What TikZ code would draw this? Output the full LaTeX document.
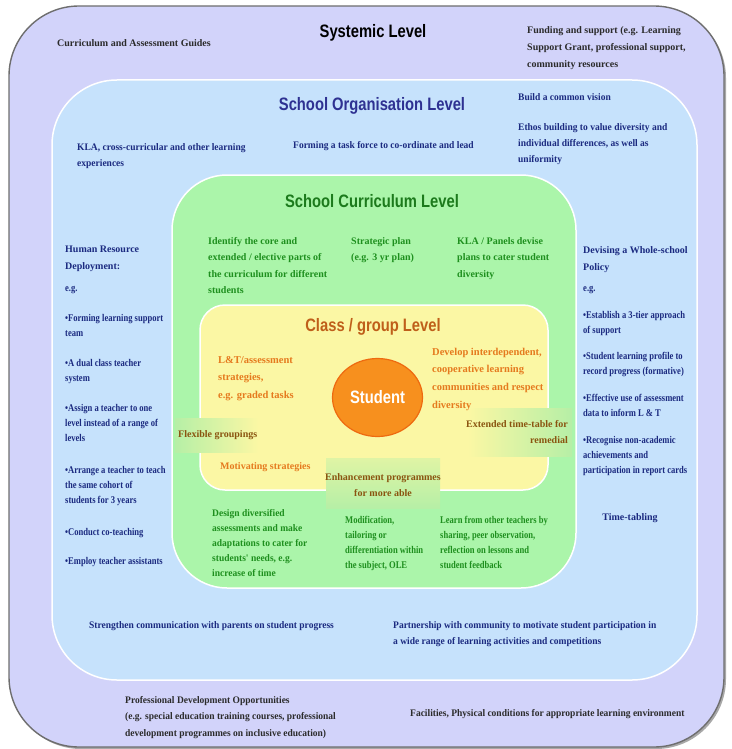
\documentclass[tikz,border=0pt]{standalone}
\usepackage{fontspec}
\setmainfont{Liberation Serif}
\newfontfamily\ttlfont[FakeStretch=0.82]{Liberation Sans}
\newfontfamily\condfont[FakeStretch=0.83]{Liberation Serif}
\newfontfamily\semifont[FakeStretch=0.95]{Liberation Serif}
\usetikzlibrary{shapes.geometric}
\definecolor{outerfill}{HTML}{D2D3FA}
\definecolor{outerline}{HTML}{6E6E6E}
\definecolor{bluefill}{HTML}{C6E2FC}
\definecolor{greenfill}{HTML}{ABF5AA}
\definecolor{yellowfill}{HTML}{FBF7A4}
\definecolor{orfill}{HTML}{F7901E}
\definecolor{orline}{HTML}{EE6A10}
\definecolor{navytxt}{HTML}{1B2A80}
\definecolor{navyttl}{HTML}{2E3192}
\definecolor{greenttl}{HTML}{1C7A1C}
\definecolor{greentxt}{HTML}{1E8F1E}
\definecolor{orangetxt}{HTML}{E57A1E}
\definecolor{browntxt}{HTML}{8A5410}
\definecolor{classttl}{HTML}{BF5F1A}
\definecolor{darktxt}{HTML}{2B2B2B}
\definecolor{boxgreen}{HTML}{B6EFA6}
\newcommand{\mlL}[1]{\begin{tabular}[t]{@{}l@{}}#1\end{tabular}}
\newcommand{\mlR}[1]{\begin{tabular}[t]{@{}r@{}}#1\end{tabular}}
\newcommand{\mlC}[1]{\begin{tabular}[t]{@{}c@{}}#1\end{tabular}}
\tikzset{
  txt/.style={anchor=base west, inner sep=0pt, font=\bfseries\fontsize{10}{16}\selectfont},
  ctxt/.style={anchor=base, inner sep=0pt, font=\bfseries\fontsize{10}{16}\selectfont},
  ttl/.style={anchor=base, inner sep=0pt, font=\ttlfont\bfseries\fontsize{18}{20}\selectfont},
  sp17/.style={font=\bfseries\fontsize{10}{17}\selectfont},
  big/.style={font=\bfseries\fontsize{10.5}{17.8}\selectfont},
  reg/.style={font=\semifont\bfseries\fontsize{10}{16}\selectfont},
  reg15/.style={font=\semifont\bfseries\fontsize{10}{15}\selectfont},
  reg17/.style={font=\semifont\bfseries\fontsize{10}{16.7}\selectfont},
  cond/.style={font=\condfont\bfseries\fontsize{10.3}{15}\selectfont},
}
\begin{document}
\begin{tikzpicture}[x=1pt,y=-1pt]
\useasboundingbox (0,0) rectangle (731,749);
% panels
\fill[outerline!60, rounded corners=70pt] (11,8) rectangle (726,749);
\filldraw[fill=outerfill, draw=outerline, line width=1.4pt, rounded corners=70pt] (9,6) rectangle (724,747);
\filldraw[fill=bluefill, draw=white, line width=1.5pt, rounded corners=65pt] (52,80) rectangle (697,680);
\filldraw[fill=greenfill, draw=white, line width=1.5pt, rounded corners=55pt] (172,175) rectangle (576,588);
\filldraw[fill=yellowfill, draw=white, line width=1.5pt, rounded corners=25pt] (200,305) rectangle (548,490);
% gradient boxes
\shade[left color=boxgreen, right color=yellowfill] (175,418) rectangle (258,452);
\shade[left color=yellowfill, right color=boxgreen] (468,408) rectangle (572,456);
\shade[top color=yellowfill!60!boxgreen, bottom color=boxgreen] (326,458) rectangle (440,508);
% student
\node[ellipse, fill=orfill, draw=orline, line width=1.2pt, minimum width=90, minimum height=78, inner sep=0pt, text=white, font=\ttlfont\bfseries\fontsize{18}{20}\selectfont] (stu) at (377.5,397.5) {Student};
% systemic level
\node[ttl, text=black] (sys) at (373,38) {Systemic Level};
\node[txt, text=darktxt] (cag) at (57,47) {Curriculum and Assessment Guides};
\node[txt, text=darktxt, sp17] (fund) at (527,34) {\mlL{Funding and support (e.g. Learning\\Support Grant, professional support,\\community resources}};
\node[txt, text=darktxt, reg17] (pd) at (125,703) {\mlL{Professional Development Opportunities\\(e.g. special education training courses, professional\\development programmes on inclusive education)}};
\node[txt, text=darktxt, reg] (fac) at (410,716) {Facilities, Physical conditions for appropriate learning environment};
% school organisation level
\node[ttl, text=navyttl] (sol) at (372,111) {School Organisation Level};
\node[txt, text=navytxt, reg] (vision) at (518,101) {Build a common vision};
\node[txt, text=navytxt, reg] (ethos) at (518,131) {\mlL{Ethos building to value diversity and\\individual differences, as well as\\uniformity}};
\node[txt, text=navytxt, reg] (kla) at (77,150) {\mlL{KLA, cross-curricular and other learning\\experiences}};
\node[txt, text=navytxt, reg] (task) at (293,148) {Forming a task force to co-ordinate and lead};
\node[txt, text=navytxt, sp17] (hr) at (65,252) {\mlL{Human Resource\\Deployment:}};
\node[txt, text=navytxt, cond] (eg1) at (65,291) {e.g.};
\node[txt, text=navytxt, cond] (hr1) at (65,321) {\mlL{•Forming learning support\\team}};
\node[txt, text=navytxt, cond] (hr2) at (65,366) {\mlL{•A dual class teacher\\system}};
\node[txt, text=navytxt, cond] (hr3) at (65,411) {\mlL{•Assign a teacher to one\\level instead of a range of\\levels}};
\node[txt, text=navytxt, cond] (hr4) at (65,473) {\mlL{•Arrange a teacher to teach\\the same cohort of\\students for 3 years}};
\node[txt, text=navytxt, cond] (hr5) at (65,535) {•Conduct co-teaching};
\node[txt, text=navytxt, cond] (hr6) at (65,564) {•Employ teacher assistants};
\node[txt, text=navytxt, sp17] (pol) at (583,253) {\mlL{Devising a Whole-school\\Policy}};
\node[txt, text=navytxt, cond] (eg2) at (583,291) {e.g.};
\node[txt, text=navytxt, cond] (p1) at (583,318) {\mlL{•Establish a 3-tier approach\\of support}};
\node[txt, text=navytxt, cond] (p2) at (583,359) {\mlL{•Student learning profile to\\record progress (formative)}};
\node[txt, text=navytxt, cond] (p3) at (583,401) {\mlL{•Effective use of assessment\\data to inform L \& T}};
\node[txt, text=navytxt, cond] (p4) at (583,443) {\mlL{•Recognise non-academic\\achievements and\\participation in report cards}};
\node[ctxt, text=navytxt] (tt) at (630,520) {Time-tabling};
\node[txt, text=navytxt, reg] (str) at (89,628) {Strengthen communication with parents on student progress};
\node[txt, text=navytxt, reg17] (part) at (393,628) {\mlL{Partnership with community to motivate student participation in\\a wide range of learning activities and competitions}};
% school curriculum level
\node[ttl, text=greenttl] (scl) at (372,207) {School Curriculum Level};
\node[txt, text=greentxt, font=\bfseries\fontsize{10}{16.5}\selectfont] (ident) at (208,244) {\mlL{Identify the core and\\extended / elective parts of\\the curriculum for different\\students}};
\node[txt, text=greentxt, font=\bfseries\fontsize{10}{16.5}\selectfont] (strat) at (351,244) {\mlL{Strategic plan\\(e.g. 3 yr plan)}};
\node[txt, text=greentxt, font=\bfseries\fontsize{10}{16.5}\selectfont] (panels) at (457,244) {\mlL{KLA / Panels devise\\plans to cater student\\diversity}};
\node[txt, text=greentxt, reg15] (design) at (212,516) {\mlL{Design diversified\\assessments and make\\adaptations to cater for\\students' needs, e.g.\\increase of time}};
\node[txt, text=greentxt, cond] (modif) at (345,523) {\mlL{Modification,\\tailoring or\\differentiation within\\the subject, OLE}};
\node[txt, text=greentxt, cond] (learn) at (440,523) {\mlL{Learn from other teachers by\\sharing, peer observation,\\reflection on lessons and\\student feedback}};
% class / group level
\node[ttl, text=classttl] (cgl) at (373,331) {Class / group Level};
\node[txt, text=orangetxt, big] (lt) at (218,363) {\mlL{L\&T/assessment\\strategies,\\e.g. graded tasks}};
\node[txt, text=orangetxt, big] (dev) at (432,355) {\mlL{Develop interdependent,\\cooperative learning\\communities and respect\\diversity}};
\node[txt, text=browntxt] (flex) at (178,437) {Flexible groupings};
\node[anchor=base east, inner sep=0pt, text=browntxt, font=\bfseries\fontsize{10}{16}\selectfont] (ext) at (568,427) {\mlR{Extended time-table for\\remedial}};
\node[txt, text=orangetxt] (mot) at (220,469) {Motivating strategies};
\node[ctxt, text=browntxt] (enh) at (383,480) {\mlC{Enhancement programmes\\for more able}};
\end{tikzpicture}
\end{document}
